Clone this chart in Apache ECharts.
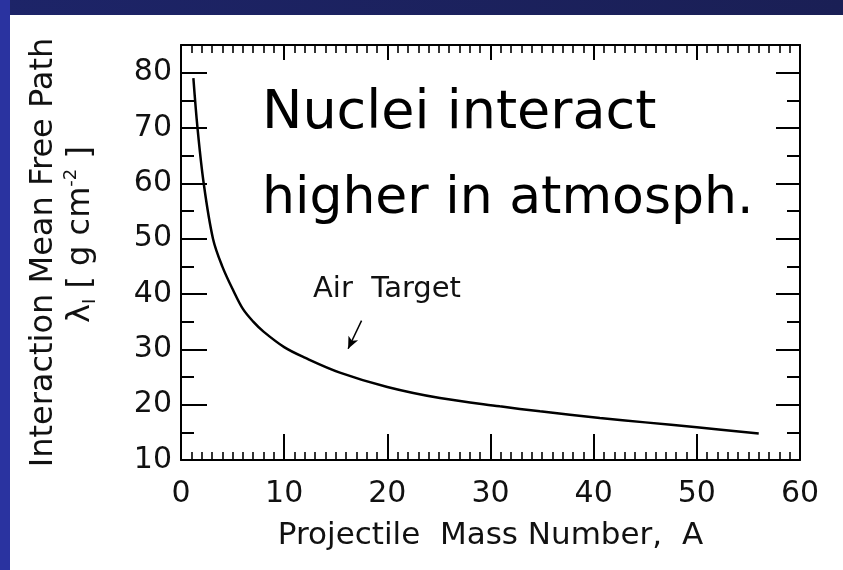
<!DOCTYPE html>
<html>
<head>
<meta charset="utf-8">
<script src="https://cdn.jsdelivr.net/npm/echarts@6/dist/echarts.min.js"></script>
<style>html,body{margin:0;padding:0;background:#fff}#c{width:843px;height:570px}</style>
</head>
<body>
<div id="c"></div>
<script>
// Data
const massNumber = [1.2, 1.6, 2.2, 3.1, 4, 5.1, 6, 7, 8, 10, 12, 15.4, 20, 25.1, 30.9, 34.8, 40.6, 45, 50, 56];
const meanFreePath = [79, 70, 60, 50, 45, 40.5, 37.3, 35.0, 33.2, 30.4, 28.5, 25.8, 23.2, 21.2, 19.7, 18.8, 17.6, 16.8, 15.9, 14.8];
const arrowFrom = [17.5, 35.2];
const arrowTo = [16.2, 30.1];
const xTitle = 'Projectile  Mass Number,  A';
const yTitle1 = 'Interaction Mean Free Path';
const noteLine1 = 'Nuclei interact';
const noteLine2 = 'higher in atmosph.';
const curveLabel = 'Air  Target';

const FONT = 'DejaVu Sans';
const chart = echarts.init(document.getElementById('c'), null, {renderer: 'canvas'});

const axisLine = {show: true, lineStyle: {color: '#000', width: 2}};
function xAx(pos, major, minor, labels) {
  return {
    type: 'value', position: pos, min: 0, max: 60, interval: 10,
    axisLine: axisLine,
    axisTick: {show: true, inside: true, length: major, lineStyle: {color: '#000', width: 2}},
    minorTick: {show: true, splitNumber: 10, length: minor, lineStyle: {color: '#000', width: 1.6}},
    axisLabel: {show: labels, color: '#111', fontFamily: FONT, fontSize: 30, margin: 19},
    splitLine: {show: false}, minorSplitLine: {show: false},
    name: labels ? xTitle : '', nameLocation: 'middle', nameGap: 60,
    nameTextStyle: {color: '#111', fontFamily: FONT, fontSize: 31}
  };
}
function yAx(pos, interval, len, labels, line) {
  return {
    type: 'value', position: pos, min: 10, max: 85, interval: interval,
    axisLine: line ? axisLine : {show: false},
    axisTick: {show: true, inside: true, length: len, lineStyle: {color: '#000', width: 2}},
    axisLabel: {show: labels, color: '#111', fontFamily: FONT, fontSize: 30, margin: 9, showMaxLabel: false},
    splitLine: {show: false}
  };
}
const yLeft = yAx('left', 10, 26, true, true);
yLeft.name = '{a|' + yTitle1 + '}\n{g|}{b|λ}{s|I}{b| [ g cm}{p|-2}{b| ]}';
yLeft.nameLocation = 'middle';
yLeft.nameRotate = 90;
yLeft.nameGap = 82;
yLeft.nameTextStyle = {
  color: '#111', fontFamily: FONT, fontSize: 32,
  rich: {
    a: {fontFamily: FONT, fontSize: 32, lineHeight: 37, color: '#111'},
    b: {fontFamily: FONT, fontSize: 32, lineHeight: 37, color: '#111'},
    g: {width: 36, lineHeight: 37},
    s: {fontFamily: FONT, fontSize: 18, lineHeight: 37, verticalAlign: 'bottom', color: '#111'},
    p: {fontFamily: FONT, fontSize: 18, lineHeight: 37, verticalAlign: 'top', color: '#111'}
  }
};

const option = {
  backgroundColor: '#fff',
  animation: false,
  grid: {left: 181, right: 43, top: 45, bottom: 110, containLabel: false},
  xAxis: [xAx('bottom', 26, 8, true), xAx('top', 15, 8, false)],
  yAxis: [
    yLeft,
    yAx('left', 5, 13, false, false),
    yAx('right', 10, 24, false, true),
    yAx('right', 5, 13, false, false)
  ],
  graphic: [
    {type: 'rect', z: -10, shape: {x: 0, y: 0, width: 843, height: 15},
     style: {fill: new echarts.graphic.LinearGradient(0, 0, 1, 0, [{offset: 0, color: '#1d2468'}, {offset: 1, color: '#1a1f55'}])}},
    {type: 'rect', z: -9, shape: {x: 0, y: 0, width: 10, height: 570}, style: {fill: '#2a33a0'}},
    {type: 'text', x: 262, y: 114, style: {text: noteLine1, fontFamily: FONT, fontSize: 54, fill: '#000', verticalAlign: 'middle'}},
    {type: 'text', x: 262, y: 199, style: {text: noteLine2, fontFamily: FONT, fontSize: 52, fill: '#000', verticalAlign: 'middle'}},
    {type: 'text', x: 313, y: 289, style: {text: curveLabel, fontFamily: FONT, fontSize: 29, fill: '#111', verticalAlign: 'middle'}}
  ],
  series: [{
    type: 'line',
    data: massNumber.map((a, i) => [a, meanFreePath[i]]),
    smooth: 0.35,
    showSymbol: false, symbol: 'none',
    lineStyle: {color: '#000', width: 2.5},
    silent: true,
    markLine: {
      silent: true, symbol: ['none', 'arrow'], symbolSize: [8, 12],
      label: {show: false},
      lineStyle: {color: '#000', width: 1.5, type: 'solid'},
      data: [[{coord: arrowFrom}, {coord: arrowTo}]]
    }
  }]
};
chart.setOption(option);
</script>
</body>
</html>
